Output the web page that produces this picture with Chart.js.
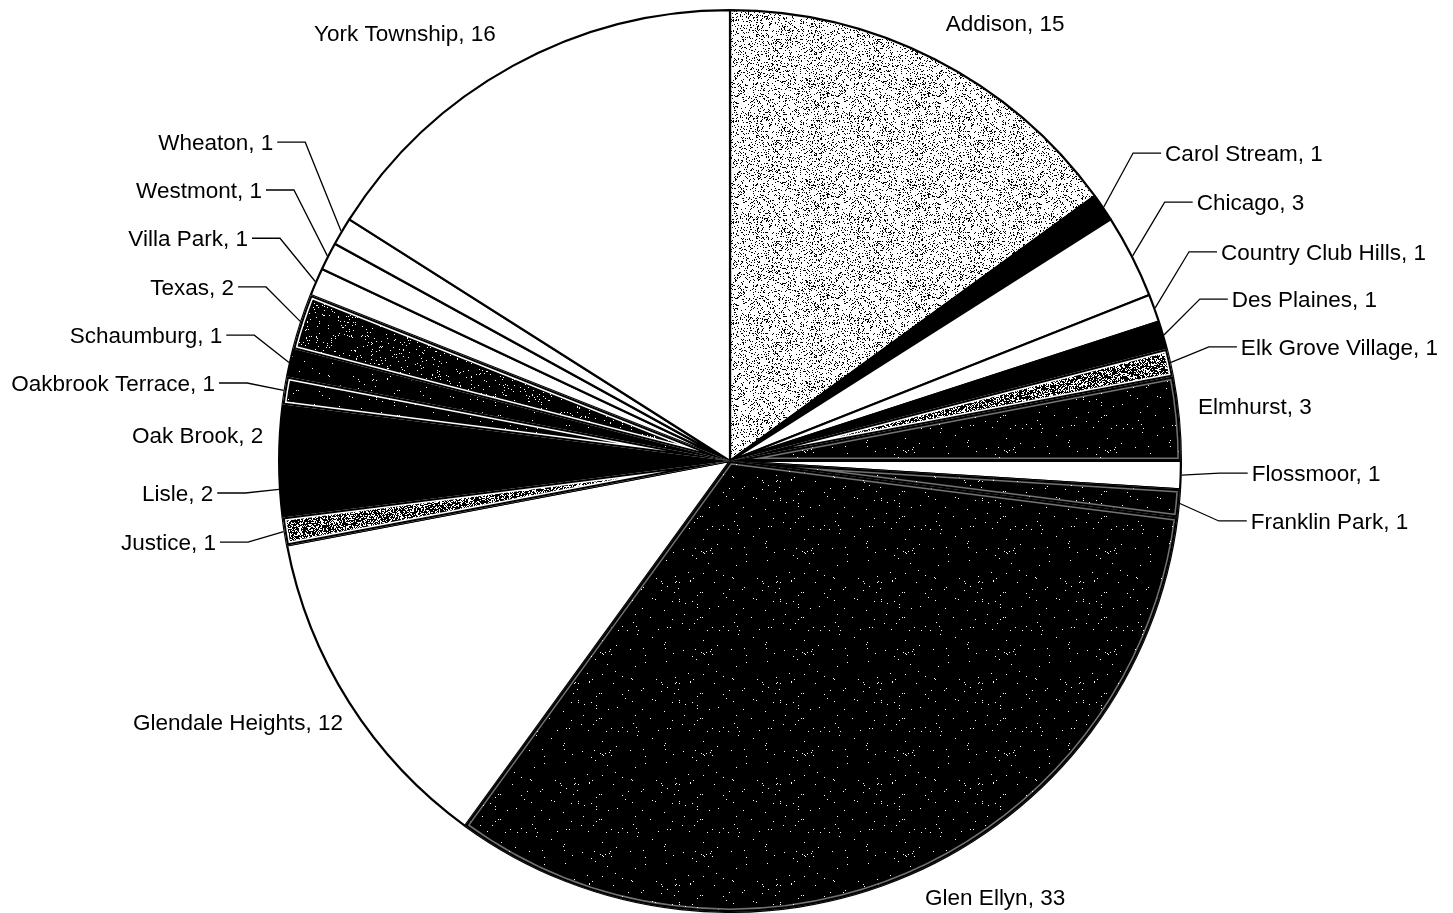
<!DOCTYPE html>
<html>
<head>
<meta charset="utf-8">
<script src="https://cdn.jsdelivr.net/npm/chart.js@4.4.0/dist/chart.umd.min.js"></script>
<style>
    html, body { margin: 0; padding: 0; background: #fff; }
    #wrap { width: 1453px; height: 913px; }
</style>
</head>
<body>
<div id="wrap"><canvas id="pieChart"></canvas></div>
<script>
// du lieu: dia diem va so luong
const places = ["Addison", "Carol Stream", "Chicago", "Country Club Hills", "Des Plaines",
    "Elk Grove Village", "Elmhurst", "Flossmoor", "Franklin Park", "Glen Ellyn",
    "Glendale Heights", "Justice", "Lisle", "Oak Brook", "Oakbrook Terrace",
    "Schaumburg", "Texas", "Villa Park", "Westmont", "Wheaton", "York Township"];
const counts = [15, 1, 3, 1, 1, 1, 3, 1, 1, 33, 12, 1, 2, 2, 1, 1, 2, 1, 1, 1, 16];

// kieu to mau cho tung lat
const fillKinds = ["light", "solid", "white", "white", "solid", "dark", "speck", "white", "speck", "speck",
    "white", "dark", "solid", "solid", "speck", "speck", "speck2", "white", "white", "white", "white"];
const rimAlpha = [0, 0, 0, 0, 0, 1, 0.45, 0, 0.45, 0.45, 0, 1, 0, 0, 1, 0, 1, 0, 0, 0, 0];

// vi tri nhan (theo ban kinh, tinh tu tam): [fx, fy, canh le, duong dan]
const labelLayout = [
    [0.610, -0.971, "center", false],
    [0.965, -0.683, "left", true],
    [1.035, -0.574, "left", true],
    [1.089, -0.464, "left", true],
    [1.113, -0.359, "left", true],
    [1.133, -0.253, "left", true],
    [1.038, -0.122, "left", false],
    [1.157, 0.027, "left", true],
    [1.155, 0.133, "left", true],
    [0.588, 0.967, "center", false],
    [-1.091, 0.579, "center", false],
    [-1.140, 0.180, "right", true],
    [-1.146, 0.071, "right", true],
    [-1.035, -0.058, "right", false],
    [-1.142, -0.173, "right", true],
    [-1.126, -0.279, "right", true],
    [-1.100, -0.386, "right", true],
    [-1.069, -0.494, "right", true],
    [-1.038, -0.601, "right", true],
    [-1.013, -0.707, "right", true],
    [-0.721, -0.949, "center", false]
];

const canvas = document.getElementById("pieChart");
const mainCtx = canvas.getContext("2d");

// hoa van cham (khong ngau nhien, dung ham bam co dinh)
function makePattern(bg, dot, density, seed) {
    const size = 101;
    const tile = document.createElement("canvas");
    tile.width = size;
    tile.height = size;
    const g = tile.getContext("2d");
    g.fillStyle = bg;
    g.fillRect(0, 0, size, size);
    g.fillStyle = dot;
    for (let y = 0; y < size; y++) {
        for (let x = 0; x < size; x++) {
            const h = Math.sin(x * 12.9898 + y * 78.233 + seed * 37.719) * 43758.5453;
            if (h - Math.floor(h) < density) g.fillRect(x, y, 1, 1);
        }
    }
    return mainCtx.createPattern(tile, "repeat");
}

const fills = {
    white: "#ffffff",
    solid: "#000000",
    light: makePattern("#ffffff", "#000000", 0.16, 1),
    dark: makePattern("#000000", "#ffffff", 0.35, 2),
    speck: makePattern("#000000", "#ffffff", 0.008, 3),
    speck2: makePattern("#000000", "#ffffff", 0.04, 4)
};

const labelFont = "22.5px 'Liberation Sans', Arial, sans-serif";

const labelPlugin = {
    id: "pieLabels",
    afterDatasetsDraw(chart) {
        const ctx = chart.ctx;
        const arcs = chart.getDatasetMeta(0).data;

        // vien trang ben trong cho cac lat co hoa van
        arcs.forEach((arc, i) => {
            if (!rimAlpha[i]) return;
            const p = arc.getProps(["x", "y", "startAngle", "endAngle", "outerRadius"], true);
            ctx.save();
            ctx.beginPath();
            ctx.moveTo(p.x, p.y);
            ctx.arc(p.x, p.y, p.outerRadius, p.startAngle, p.endAngle);
            ctx.closePath();
            ctx.clip();
            ctx.globalAlpha = rimAlpha[i];
            ctx.strokeStyle = "#ffffff";
            ctx.lineWidth = 7;
            ctx.stroke();
            ctx.globalAlpha = 1;
            ctx.strokeStyle = "#000000";
            ctx.lineWidth = 4;
            ctx.stroke();
            ctx.restore();
        });

        // nhan va duong dan
        ctx.save();
        ctx.font = labelFont;
        ctx.fillStyle = "#000";
        ctx.strokeStyle = "#000";
        ctx.lineWidth = 1.3;
        ctx.textBaseline = "alphabetic";
        arcs.forEach((arc, i) => {
            const p = arc.getProps(["x", "y", "startAngle", "endAngle", "outerRadius"], true);
            const r = p.outerRadius;
            const [fx, fy, align, leader] = labelLayout[i];
            const lx = p.x + fx * r;
            const ly = p.y + fy * r;
            ctx.textAlign = align;
            ctx.fillText(places[i] + ", " + counts[i], lx, ly + 8);

            if (leader) {
                const mid = (p.startAngle + p.endAngle) / 2;
                const sx = p.x + Math.cos(mid) * (r + 1);
                const sy = p.y + Math.sin(mid) * (r + 1);
                const dir = align === "left" ? -1 : 1;
                ctx.beginPath();
                ctx.moveTo(sx, sy);
                ctx.lineTo(lx + dir * 32, ly);
                ctx.lineTo(lx + dir * 4, ly);
                ctx.stroke();
            }
        });
        ctx.restore();
    }
};

new Chart(canvas, {
    type: "pie",
    data: {
        labels: places,
        datasets: [
            {
                label: "Count",
                data: counts,
                backgroundColor: fillKinds.map((k) => fills[k]),
                borderColor: "#000000",
                borderWidth: 2.2,
            },
        ],
    },
    options: {
        responsive: true,
        maintainAspectRatio: false,
        animation: false,
        layout: {
            padding: { top: 9, bottom: 0, left: 7, right: 0 },
        },
        plugins: {
            legend: { display: false },
            tooltip: { enabled: false },
            title: { display: false },
        },
    },
    plugins: [labelPlugin],
});
</script>
</body>
</html>
